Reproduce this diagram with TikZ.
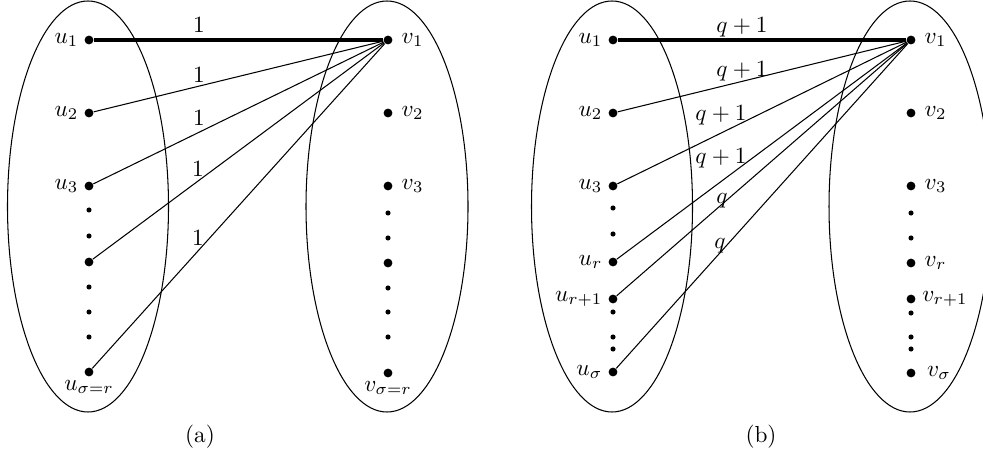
\documentclass[tikz,border=0pt]{standalone}
\begin{document}
\begin{tikzpicture}[x=0.43pt,y=-0.43pt,
  bigdot/.style={circle,fill=black,inner sep=0pt,minimum size=3.8pt},
  smalldot/.style={circle,fill=black,inner sep=0pt,minimum size=2.2pt},
  edge/.style={line width=0.45pt},
  thickedge/.style={line width=1.3pt},
  set/.style={line width=0.45pt},
  wt/.style={anchor=base,inner sep=0pt},
  every label/.style={inner sep=2.3pt}]
\useasboundingbox (0,0) rectangle (983,475);
\clip (0,0) rectangle (983,475);
% ---------- (a) ----------
\draw[set] (88,206.5) ellipse [x radius=80.5, y radius=205.5];
\draw[set] (387,206.5) ellipse [x radius=81, y radius=205.5];
\node[bigdot,label=left:{$u_1$}] (au1) at (89,40) {};
\node[bigdot,label=left:{$u_2$}] (au2) at (89,113) {};
\node[bigdot,label=left:{$u_3$}] (au3) at (89,186) {};
\node[smalldot] (aud1) at (89,210) {};
\node[smalldot] (aud2) at (89,236) {};
\node[bigdot] (au4) at (89,262) {};
\node[smalldot] (aud3) at (89,287) {};
\node[smalldot] (aud4) at (89,312) {};
\node[smalldot] (aud5) at (89,337) {};
\node[bigdot,label={[inner sep=1.2pt]below:{$u_{\sigma=r}$}}] (au5) at (89,372) {};
\node[bigdot,label={[inner sep=3.6pt]right:{$v_1$}}] (av1) at (388,40) {};
\node[bigdot,label={[inner sep=3.6pt]right:{$v_2$}}] (av2) at (388,113) {};
\node[bigdot,label={[inner sep=3.6pt]right:{$v_3$}}] (av3) at (388,186) {};
\node[smalldot] (avd1) at (388,213) {};
\node[smalldot] (avd2) at (388,238) {};
\node[bigdot] (av4) at (388,263) {};
\node[smalldot] (avd3) at (388,288) {};
\node[smalldot] (avd4) at (388,312) {};
\node[smalldot] (avd5) at (388,337) {};
\node[bigdot,label={[inner sep=1.2pt]below:{$v_{\sigma=r}$}}] (av5) at (388,373) {};
\draw[thickedge] (au1) -- (av1);
\draw[edge] (au2) -- (av1);
\draw[edge] (au3) -- (av1);
\draw[edge] (au4) -- (av1);
\draw[edge] (au5) -- (av1);
\node[wt] (aw1) at (199,33) {$1$};
\node[wt] (aw2) at (199,83) {$1$};
\node[wt] (aw3) at (199,126) {$1$};
\node[wt] (aw4) at (198,177) {$1$};
\node[wt] (aw5) at (198,246) {$1$};
\node (capa) at (200,437) {(a)};
% ---------- (b) ----------
\draw[set] (612,206.5) ellipse [x radius=80.5, y radius=205.5];
\draw[set] (910,206.5) ellipse [x radius=81, y radius=205.5];
\node[bigdot,label=left:{$u_1$}] (bu1) at (613,40) {};
\node[bigdot,label=left:{$u_2$}] (bu2) at (613,113) {};
\node[bigdot,label=left:{$u_3$}] (bu3) at (613,186) {};
\node[smalldot] (bud1) at (613,208) {};
\node[smalldot] (bud2) at (613,234) {};
\node[bigdot,label=left:{$u_r$}] (bur) at (613,262) {};
\node[bigdot,label=left:{$u_{r+1}$}] (burr) at (613,299) {};
\node[smalldot] (bud3) at (613,312) {};
\node[smalldot] (bud4) at (613,337) {};
\node[smalldot] (bud5) at (613,349) {};
\node[bigdot,label=left:{$u_\sigma$}] (bus) at (613,372) {};
\node[bigdot,label={[inner sep=3.6pt]right:{$v_1$}}] (bv1) at (911,40) {};
\node[bigdot,label={[inner sep=3.6pt]right:{$v_2$}}] (bv2) at (911,113) {};
\node[bigdot,label={[inner sep=3.6pt]right:{$v_3$}}] (bv3) at (911,186) {};
\node[smalldot] (bvd1) at (911,213) {};
\node[smalldot] (bvd2) at (911,238) {};
\node[bigdot,label={[inner sep=3.6pt]right:{$v_r$}}] (bvr) at (911,263) {};
\node[bigdot,label={[inner sep=2.6pt]right:{$v_{r+1}$}}] (bvrr) at (911,299) {};
\node[smalldot] (bvd3) at (911,313) {};
\node[smalldot] (bvd4) at (911,337) {};
\node[smalldot] (bvd5) at (911,349) {};
\node[bigdot,label={[inner sep=4.6pt]right:{$v_\sigma$}}] (bvs) at (911,373) {};
\draw[thickedge] (bu1) -- (bv1);
\draw[edge] (bu2) -- (bv1);
\draw[edge] (bu3) -- (bv1);
\draw[edge] (bur) -- (bv1);
\draw[edge] (burr) -- (bv1);
\draw[edge] (bus) -- (bv1);
\node[wt] (bw1) at (742,33) {$q+1$};
\node[wt] (bw2) at (742,77) {$q+1$};
\node[wt] (bw3) at (721,121) {$q+1$};
\node[wt] (bw4) at (721,164) {$q+1$};
\node[wt] (bw5) at (722,204) {$q$};
\node[wt] (bw6) at (720,249) {$q$};
\node (capb) at (761,437) {(b)};
\end{tikzpicture}
\end{document}
